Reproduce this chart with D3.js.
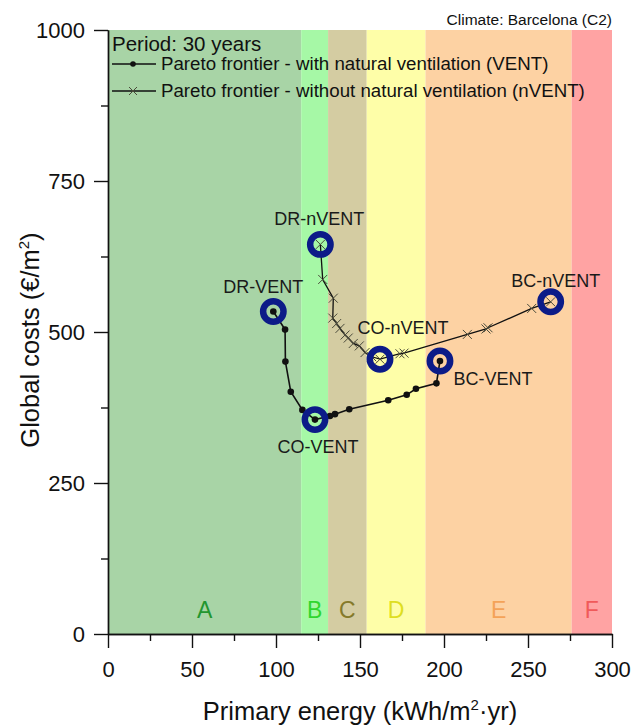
<!DOCTYPE html>
<meta charset="utf-8">
<head>
    <script src="https://d3js.org/d3.v7.min.js"></script>
    <style>
        body { margin: 0; background: #fff; }
        text { font-family: "Liberation Sans", Arial, sans-serif; }
    </style>
</head>
<body>
<div id="graph"></div>
<script>
    // energy classes (band limits in kWh/m2.yr)
    var classNames = ["A", "B", "C", "D", "E", "F"];
    var classStart = [0, 115, 131, 154, 189, 276];
    var classEnd = [115, 131, 154, 189, 276, 300];
    var classFill = ["#a8d4a6", "#a6f8a6", "#d4cca2", "#fefea8", "#fdd2a3", "#ffa3a3"];
    var classText = ["#22962f", "#2fd62f", "#857a2a", "#dede22", "#f4a358", "#f05a5a"];

    // Pareto frontier - with natural ventilation (VENT)
    var ventEnergy = [98.4, 105.4, 105.6, 108.8, 115.7, 123.2, 132.1, 135.1, 143.6, 166.8, 177.8, 183.3, 195.5, 197.6];
    var ventCost   = [534, 504, 451, 401, 371, 355, 361, 364, 372, 387, 396, 406, 415, 452];

    // Pareto frontier - without natural ventilation (nVENT)
    var nventEnergy = [126.4, 127.8, 134.1, 133.8, 136.1, 138.1, 141.1, 143.0, 146.0, 149.6, 153.0, 157.0, 161.9, 173.8, 176.2, 213.9, 225.0, 226.2, 252.2, 263.5];
    var nventCost   = [645, 587, 556, 523, 514, 506, 495, 490, 481, 477, 466, 459, 455, 464, 465, 496, 505, 507, 539, 550];

    // highlighted solutions
    var hlNames  = ["DR-VENT", "CO-VENT", "BC-VENT", "DR-nVENT", "CO-nVENT", "BC-nVENT"];
    var hlSeries = ["vent", "vent", "vent", "nvent", "nvent", "nvent"];
    var hlIndex  = [0, 5, 13, 0, 12, 19];

    var xTicks = [0, 50, 100, 150, 200, 250, 300];
    var yTicks = [0, 250, 500, 750, 1000];

    var W = 633, H = 726;
    var margin = {top: 30, right: 21, bottom: 92, left: 108},
        width = W - margin.left - margin.right,
        height = H - margin.top - margin.bottom;

    var svg = d3.select("#graph").append("svg")
        .attr("width", W).attr("height", H)
      .append("g")
        .attr("transform", "translate(" + margin.left + "," + margin.top + ")");

    var x = d3.scaleLinear().domain([0, 300]).range([0, width]);
    var y = d3.scaleLinear().domain([0, 1000]).range([height, 0]);

    // class bands
    svg.selectAll("rect.band")
        .data(classNames)
        .enter().append("rect")
        .attr("class", "band")
        .attr("x", function(d, i) { return x(classStart[i]); })
        .attr("width", function(d, i) { return x(classEnd[i]) - x(classStart[i]); })
        .attr("y", 0)
        .attr("height", height)
        .attr("fill", function(d, i) { return classFill[i]; });

    svg.selectAll("text.cls")
        .data(classNames)
        .enter().append("text")
        .attr("class", "cls")
        .attr("x", function(d, i) { return x((classStart[i] + classEnd[i]) / 2); })
        .attr("y", height - 16)
        .attr("text-anchor", "middle")
        .style("font-size", "23px")
        .attr("fill", function(d, i) { return classText[i]; })
        .text(function(d) { return d; });

    // axes
    svg.append("g")
        .attr("transform", "translate(0," + height + ")")
        .call(d3.axisBottom(x).tickValues(xTicks).tickSize(14).tickPadding(13).tickSizeOuter(0));
    svg.append("g")
        .attr("transform", "translate(0," + height + ")")
        .call(d3.axisBottom(x).tickValues(d3.range(25, 300, 50)).tickSize(7).tickFormat("").tickSizeOuter(0));
    svg.append("g")
        .call(d3.axisLeft(y).tickValues(yTicks).tickSize(14).tickPadding(9).tickFormat(d3.format("d")).tickSizeOuter(0));
    svg.append("g")
        .call(d3.axisLeft(y).tickValues(d3.range(125, 1000, 250)).tickSize(7).tickFormat("").tickSizeOuter(0));
    svg.selectAll(".domain, .tick line").attr("stroke", "#111").attr("stroke-width", 1.4);
    svg.selectAll(".tick text")
        .style("font-size", "22px")
        .style("font-family", "Liberation Sans, Arial, sans-serif")
        .attr("fill", "#111");

    // axis titles
    svg.append("text")
        .attr("x", width / 2)
        .attr("y", height + 86)
        .attr("text-anchor", "middle")
        .style("font-size", "25.5px")
        .attr("fill", "#111")
        .html("Primary energy (kWh/m<tspan dy='-10' font-size='15px'>2</tspan><tspan dy='10'>·yr)</tspan>");
    svg.append("text")
        .attr("transform", "rotate(-90)")
        .attr("x", -310)
        .attr("y", -69)
        .attr("text-anchor", "middle")
        .style("font-size", "25.5px")
        .attr("fill", "#111")
        .html("Global costs (€/m<tspan dy='-10' font-size='15px'>2</tspan><tspan dy='10'>)</tspan>");

    svg.append("text")
        .attr("x", width)
        .attr("y", -5)
        .attr("text-anchor", "end")
        .style("font-size", "15.5px")
        .attr("fill", "#111")
        .text("Climate: Barcelona (C2)");

    // lines
    var vent = ventEnergy.map(function(e, i) { return [e, ventCost[i]]; });
    var nvent = nventEnergy.map(function(e, i) { return [e, nventCost[i]]; });
    var line = d3.line().x(function(d) { return x(d[0]); }).y(function(d) { return y(d[1]); });

    function cross(g, cx, cy, s) {
        g.append("path")
            .attr("d", "M" + (cx - s) + "," + (cy - s) + "L" + (cx + s) + "," + (cy + s) +
                       "M" + (cx - s) + "," + (cy + s) + "L" + (cx + s) + "," + (cy - s))
            .attr("stroke", "#4a4a3a")
            .attr("stroke-width", 1)
            .attr("fill", "none");
    }

    svg.append("path").datum(nvent).attr("d", line)
        .attr("fill", "none").attr("stroke", "#111").attr("stroke-width", 1.3);
    var nG = svg.append("g");
    nvent.forEach(function(d) { cross(nG, x(d[0]), y(d[1]), 4.5); });

    svg.append("path").datum(vent).attr("d", line)
        .attr("fill", "none").attr("stroke", "#111").attr("stroke-width", 1.6);
    svg.selectAll("circle.vdot")
        .data(vent)
        .enter().append("circle")
        .attr("class", "vdot")
        .attr("cx", function(d) { return x(d[0]); })
        .attr("cy", function(d) { return y(d[1]); })
        .attr("r", 3.3)
        .attr("fill", "#111");

    // highlight rings + labels
    var lblDx = [-10, 3, 53, -1, 23, 5];
    var lblDy = [-18, 33, 24, -19, -25, -15];
    hlNames.forEach(function(name, i) {
        var p = hlSeries[i] === "vent" ? vent[hlIndex[i]] : nvent[hlIndex[i]];
        var cx = x(p[0]), cy = y(p[1]);
        svg.append("circle")
            .attr("cx", cx).attr("cy", cy).attr("r", 10.2)
            .attr("fill", "none")
            .attr("stroke", "#0c1b88")
            .attr("stroke-width", 6.5);
        svg.append("text")
            .attr("x", cx + lblDx[i])
            .attr("y", cy + lblDy[i])
            .attr("text-anchor", "middle")
            .style("font-size", "18px")
            .attr("fill", "#1a1a1a")
            .text(name);
    });

    // legend
    var lg = svg.append("g").attr("transform", "translate(4,0)");
    lg.append("text").attr("x", 0).attr("y", 20.5)
        .style("font-size", "20.5px").attr("fill", "#111").text("Period: 30 years");
    lg.append("line").attr("x1", 0).attr("x2", 44).attr("y1", 34).attr("y2", 34)
        .attr("stroke", "#111").attr("stroke-width", 1.3);
    lg.append("circle").attr("cx", 21).attr("cy", 34).attr("r", 2.8).attr("fill", "#111");
    lg.append("text").attr("x", 49).attr("y", 39.5)
        .style("font-size", "18.7px").attr("fill", "#111")
        .text("Pareto frontier - with natural ventilation (VENT)");
    lg.append("line").attr("x1", 0).attr("x2", 44).attr("y1", 61).attr("y2", 61)
        .attr("stroke", "#111").attr("stroke-width", 1.3);
    cross(lg, 21, 61, 4);
    lg.append("text").attr("x", 49).attr("y", 67)
        .style("font-size", "18.7px").attr("fill", "#111")
        .text("Pareto frontier - without natural ventilation (nVENT)");
</script>
</body>
